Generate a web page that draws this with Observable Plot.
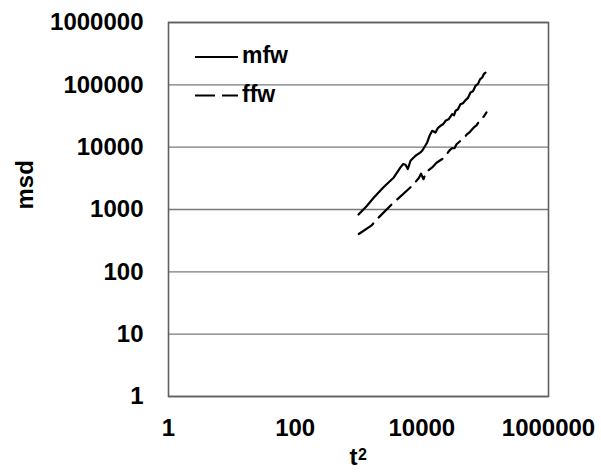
<!DOCTYPE html>
<html>
<head>
<meta charset="utf-8">
<script src="https://cdn.jsdelivr.net/npm/d3@7"></script>
<script src="https://cdn.jsdelivr.net/npm/@observablehq/plot@0.6"></script>
<style>
  html, body { margin: 0; padding: 0; background: #fff; }
</style>
</head>
<body>
<div id="chart"></div>
<script>
// ---- data ----
const mfwT2 = [1000, 1340, 1750, 2480, 3610, 4600, 5080, 5520, 6010, 6630, 7950, 9530, 10250, 12160, 13220, 14580, 16440, 18020, 19720, 21600, 23650, 26380, 30180, 32220, 34040, 37250, 40820, 44680, 48940, 53580, 58700, 64300, 70400, 77100, 82900, 89800, 95900, 101200];
const mfwMsd = [830, 1130, 1560, 2280, 3270, 4730, 5360, 5225, 4460, 6055, 7280, 8225, 8920, 11890, 15230, 18320, 17200, 20460, 22030, 23280, 26500, 28000, 33900, 32460, 38300, 40500, 49090, 50570, 56860, 61900, 75300, 78700, 96400, 103800, 122500, 131000, 150000, 157000];

const ffwT2 = [1010, 1590, 2090, 3400, 7050, 8960, 9710, 10640, 11640, 14580, 17060, 20990, 25160, 27870, 30180, 32810, 35300, 40820, 45500, 52100, 57650, 66200, 73000, 84500, 94200, 105000];
const ffwMsd = [405, 550, 747, 1225, 2405, 3200, 3750, 3060, 3960, 4730, 5620, 6450, 7930, 9080, 9680, 9600, 11130, 12670, 13890, 16220, 17650, 20700, 22440, 28200, 30700, 36000];

const seriesNames = ["mfw", "ffw"];
const seriesDash = [null, "18,8"];
const xTicks = [1, 100, 10000, 1000000];
const yTicks = [1, 10, 100, 1000, 10000, 100000, 1000000];
const xLabelBase = "t";
const xLabelSup = "2";
const yLabel = "msd";

// ---- build rows ----
const mfw = mfwT2.map((t, i) => ({t2: t, msd: mfwMsd[i]}));
const ffw = ffwT2.map((t, i) => ({t2: t, msd: ffwMsd[i]}));

// legend drawn inside the frame, relative to the plot area
function legend(index, scales, values, dimensions) {
  const g = d3.create("svg:g")
    .attr("font-family", "'Liberation Sans', Arial, sans-serif")
    .attr("font-weight", "bold")
    .attr("font-size", 23)
    .attr("text-anchor", "start");
  seriesNames.forEach((name, i) => {
    const y = dimensions.marginTop + 35 + i * 38.5;
    const x0 = dimensions.marginLeft + 27;
    g.append("line")
      .attr("x1", x0).attr("x2", x0 + 43)
      .attr("y1", y).attr("y2", y)
      .attr("stroke", "black").attr("stroke-width", 2)
      .attr("stroke-dasharray", seriesDash[i] ? "20,7" : null);
    g.append("text")
      .attr("x", x0 + 47).attr("y", y + 6)
      .attr("text-anchor", "start")
      .attr("fill", "black")
      .text(name);
  });
  return g.node();
}

const fmt = d => String(d);

const chart = Plot.plot({
  width: 601,
  height: 474,
  marginLeft: 168,
  marginRight: 53,
  marginTop: 22,
  marginBottom: 78,
  x: {type: "log", domain: [1, 1e6]},
  y: {type: "log", domain: [1, 1e6]},
  style: {
    fontFamily: "'Liberation Sans', Arial, sans-serif",
    fontWeight: "bold",
    fontSize: "24px",
    color: "black",
    background: "white"
  },
  marks: [
    Plot.gridY(yTicks, {stroke: "#7a7a7a", strokeOpacity: 1, strokeWidth: 1.4}),
    Plot.frame({stroke: "#606060", strokeWidth: 1.6}),
    Plot.axisY(yTicks, {tickSize: 0, tickPadding: 25, tickFormat: fmt, label: null, fontSize: 24}),
    Plot.axisX(xTicks, {tickSize: 0, tickPadding: 22, tickFormat: fmt, label: null, fontSize: 24}),
    Plot.line(mfw, {x: "t2", y: "msd", stroke: "black", strokeWidth: 2.2}),
    Plot.line(ffw, {x: "t2", y: "msd", stroke: "black", strokeWidth: 2.2, strokeDasharray: seriesDash[1]}),
    Plot.text([yLabel], {frameAnchor: "left", dx: -143, rotate: -90, fontSize: 24, fontWeight: "bold", fill: "black"}),
    Plot.text([xLabelBase], {frameAnchor: "bottom", dx: -5, dy: 68, fontSize: 24, fontWeight: "bold", fill: "black"}),
    Plot.text([xLabelSup], {frameAnchor: "bottom", dx: 4, dy: 63, fontSize: 16, fontWeight: "bold", fill: "black"}),
    legend
  ]
});

document.getElementById("chart").append(chart);
</script>
</body>
</html>
